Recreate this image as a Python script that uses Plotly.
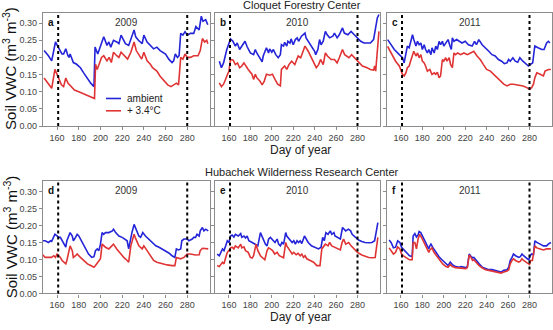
import plotly.graph_objects as go
from plotly.subplots import make_subplots

# ---------------- data (day of year, soil VWC) ----------------
A_AMB = [(148,0.22),(152,0.205),(155,0.19),(158.5,0.245),(161,0.23),(164.5,0.21),(166,0.21),(168,0.225),(170,0.205),(171,0.2),
         (172,0.21),(173.5,0.195),(175,0.185),(178,0.18),(181.5,0.17),(184.5,0.155),(187.5,0.14),(191,0.125),(194,0.115),(195,0.23),
         (197.5,0.21),(201.5,0.25),(203,0.26),(206,0.235),(207.7,0.245),(209.5,0.23),(212,0.25),(215,0.245),(217,0.24),(219,0.265),
         (223,0.24),(226,0.235),(228,0.255),(231,0.28),(232.5,0.26),(235,0.25),(238.5,0.24),(240,0.265),(243,0.245),(246,0.235),
         (249,0.225),(252,0.23),(255,0.22),(260,0.21),(263,0.195),(266,0.185),(267.5,0.19),(269,0.21),(271,0.2),(272.5,0.205),
         (274,0.27),(276,0.265),(278,0.275),(280,0.265),(283,0.27),(286,0.27),(288,0.29),(291,0.28),(293,0.32),(294.5,0.305),
         (297,0.31),(299,0.295)]
A_WARM = [(148,0.14),(153,0.12),(155,0.11),(158,0.165),(161,0.14),(164,0.12),(166,0.115),(168,0.14),(170,0.125),(173,0.115),
          (176,0.105),(180,0.1),(184,0.095),(188,0.09),(192,0.085),(194.5,0.08),(195.5,0.18),(197,0.165),(201,0.2),(203,0.205),
          (206,0.19),(208,0.2),(210,0.185),(212,0.215),(215,0.205),(217,0.2),(219,0.215),(222,0.205),(225,0.195),(228,0.215),
          (231,0.245),(233,0.22),(236,0.205),(238,0.195),(240,0.215),(243,0.19),(246,0.18),(248,0.17),(250,0.165),(252,0.16),
          (255,0.145),(259,0.13),(262,0.12),(265,0.115),(268,0.12),(270,0.125),(272,0.12),(274,0.2),(276,0.195),(278,0.21),
          (280,0.2),(283,0.2),(286,0.205),(290,0.205),(292,0.22),(294,0.255),(296,0.245),(298,0.25),(299,0.24)]

B_AMB = [(151,0.189),(153,0.170),(155,0.184),(158,0.223),(161.5,0.254),(163.7,0.247),(166,0.233),(167.7,0.242),(170,0.223),(172,0.233),
         (175,0.247),(177,0.231),(180,0.213),(183,0.208),(184.6,0.223),(186,0.213),(189,0.199),(191,0.187),(192,0.204),(195,0.228),
         (197,0.213),(198,0.225),(200,0.215),(201.5,0.223),(203.7,0.208),(206,0.199),(208,0.208),(209,0.237),(211,0.233),(212,0.244),
         (214,0.233),(215,0.247),(217,0.242),(218,0.254),(220,0.237),(222,0.252),(223.7,0.257),(225,0.247),(227.7,0.262),(229,0.266),
         (231,0.271),(232,0.257),(234,0.247),(237,0.233),(240,0.218),(241,0.208),(243,0.223),(244.6,0.252),(246,0.237),(248,0.247),
         (250,0.276),(251.7,0.266),(254,0.257),(257,0.262),(258.5,0.271),(261,0.257),(263,0.266),(266,0.286),(267.7,0.271),(271,0.266),
         (274,0.276),(277,0.266),(280,0.257),(283,0.247),(286,0.242),(289,0.242),(292,0.242),(295,0.252),(296,0.271),(298.5,0.315),
         (300,0.325)]
B_WARM = [(151,0.126),(153,0.115),(155,0.122),(158,0.146),(160,0.160),(161.5,0.194),(164,0.192),(166,0.179),(168,0.184),(170,0.170),
          (172,0.175),(174,0.184),(175,0.179),(178,0.165),(181.5,0.151),(183,0.136),(184.6,0.151),(186,0.141),(189,0.131),(191,0.120),
          (193,0.131),(195,0.151),(198,0.148),(200.6,0.151),(203,0.136),(205.5,0.122),(208,0.117),(209,0.165),(212,0.175),(214,0.165),
          (216,0.179),(218.5,0.189),(221.5,0.179),(223,0.194),(224.6,0.204),(227,0.199),(229,0.218),(231,0.233),(234,0.218),(237,0.199),
          (240,0.184),(241.5,0.170),(243.7,0.179),(245.5,0.194),(248,0.179),(250,0.213),(252,0.204),(255.4,0.194),(258.5,0.194),(261,0.184),
          (263,0.199),(266,0.223),(268,0.208),(272,0.199),(274.5,0.208),(278.5,0.194),(281.5,0.184),(284.6,0.175),(289,0.170),(292,0.165),
          (295,0.163),(296,0.175),(297,0.160),(298.5,0.223),(300,0.276)]

C_AMB = [(147.6,0.252),(150.7,0.237),(153.8,0.223),(158.5,0.208),(161.5,0.199),(163,0.184),(164.6,0.218),(166,0.233),(167.7,0.228),(169,0.247),
         (170.8,0.266),(172,0.252),(174,0.233),(175.5,0.247),(177,0.237),(178.6,0.242),(180,0.223),(181.7,0.237),(183,0.223),(184.7,0.213),
         (186,0.223),(188,0.208),(189,0.228),(191,0.213),(192.5,0.233),(194,0.223),(195.6,0.247),(197,0.237),(198.7,0.247),(200,0.233),
         (201.8,0.242),(204,0.252),(205.8,0.233),(207,0.223),(208,0.257),(209.5,0.247),(212,0.252),(214,0.247),(217,0.242),(220,0.247),
         (223,0.237),(226.5,0.233),(228.7,0.247),(230.5,0.237),(232.7,0.252),(235.8,0.237),(239,0.228),(242,0.218),(245,0.208),(248,0.204),
         (251,0.194),(254,0.189),(256.5,0.182),(259,0.184),(260.5,0.194),(262,0.189),(264.5,0.199),(266.7,0.189),(269,0.186),(271,0.199),
         (273.8,0.189),(276,0.184),(279,0.175),(280.6,0.179),(283,0.184),(284.3,0.218),(285,0.233),(288,0.228),(291.5,0.223),(293.6,0.223),
         (296,0.242),(297.6,0.247),(299,0.242)]
C_WARM = [(147.6,0.232),(150.7,0.213),(155,0.189),(158.5,0.175),(161.5,0.150),(163,0.146),(164.6,0.155),(166,0.170),(167.7,0.175),(169,0.189),
          (170.8,0.204),(172,0.218),(174,0.204),(175.5,0.213),(177,0.199),(178.6,0.208),(180,0.189),(181.7,0.184),(183,0.175),(184.7,0.160),
          (187,0.165),(189,0.150),(191,0.155),(192.5,0.151),(194,0.157),(195.6,0.141),(197,0.146),(198.7,0.194),(200,0.189),(201.8,0.199),
          (203,0.189),(205,0.199),(206.4,0.179),(208,0.170),(209.5,0.213),(211,0.208),(213,0.213),(215.7,0.208),(218.8,0.213),(222,0.208),
          (225,0.213),(228,0.218),(231,0.204),(234,0.194),(237,0.179),(240,0.165),(243.5,0.160),(246.6,0.151),(249.7,0.141),(252.8,0.131),
          (256,0.122),(259,0.117),(262,0.122),(265,0.122),(268,0.120),(271,0.117),(274,0.117),(277.5,0.112),(280,0.107),(282,0.112),
          (283.7,0.122),(285,0.141),(286.8,0.155),(290,0.151),(293,0.146),(294.5,0.160),(297.6,0.165),(300,0.165)]

D_AMB = [(146,0.155),(149,0.155),(152,0.150),(154,0.155),(155,0.153),(158,0.174),(160,0.169),(161.5,0.165),(163,0.165),(164.6,0.155),
         (168,0.136),(169,0.155),(171,0.169),(172,0.179),(174,0.169),(175,0.155),(177,0.165),(178.5,0.174),(180,0.169),(183,0.150),
         (186,0.131),(189,0.116),(192,0.106),(194,0.108),(195.4,0.126),(197,0.131),(198.5,0.126),(200,0.145),(201.5,0.179),(203,0.174),
         (204.6,0.179),(207.7,0.179),(211,0.184),(212,0.189),(214,0.179),(217,0.169),(220,0.165),(223,0.160),(224.6,0.155),(226,0.131),
         (228,0.169),(229,0.179),(231,0.203),(232,0.194),(234,0.179),(235.4,0.169),(237,0.165),(239,0.179),(241.5,0.169),(244.6,0.160),
         (247.7,0.150),(251,0.140),(254,0.136),(257,0.131),(260,0.126),(263,0.119),(266,0.111),(268.6,0.106),(270,0.131),(272,0.128),
         (274,0.131),(275,0.155),(277,0.160),(280,0.160),(281.5,0.155),(284.6,0.160),(286,0.165),(287.7,0.165),(289,0.174),(291,0.169),
         (292,0.184),(294,0.194),(295.4,0.184),(297,0.189),(299.4,0.184)]
D_WARM = [(146,0.116),(149,0.106),(152,0.106),(154.8,0.106),(157,0.111),(158.5,0.106),(160,0.116),(163,0.106),(164.6,0.097),(168,0.087),
          (169,0.097),(171,0.126),(172,0.140),(174,0.126),(175,0.106),(177,0.111),(178.5,0.116),(181.5,0.106),(184.6,0.097),(188,0.087),
          (191,0.082),(194,0.077),(195.4,0.082),(198.5,0.097),(200,0.102),(201.5,0.145),(203,0.140),(204.6,0.136),(207.7,0.131),(211,0.140),
          (212,0.145),(215,0.131),(218.5,0.116),(221.5,0.106),(224.6,0.097),(226,0.092),(228,0.140),(229,0.150),(231,0.174),(232,0.165),
          (235.4,0.140),(238.5,0.131),(240,0.140),(243,0.126),(246,0.111),(249,0.097),(252,0.092),(257,0.087),(261.5,0.084),(266,0.082),
          (268.6,0.082),(270,0.106),(274,0.102),(277,0.106),(280,0.116),(283,0.116),(287.7,0.113),(291,0.114),(292,0.126),(294,0.133),
          (297,0.131),(299.4,0.131)]

E_AMB = [(149,0.116),(151,0.111),(154,0.131),(155.4,0.126),(157,0.140),(158.5,0.155),(160,0.150),(161.5,0.169),(163,0.172),(164.6,0.166),
         (166,0.174),(168.7,0.169),(171,0.176),(172,0.165),(174,0.169),(175.5,0.163),(177,0.169),(178.6,0.155),(181.7,0.150),(184.7,0.145),
         (187,0.140),(189.4,0.179),(191,0.165),(192.5,0.155),(194,0.145),(195.6,0.140),(197,0.160),(198.7,0.165),(200,0.160),(201.8,0.155),
         (203,0.150),(205,0.160),(206.4,0.145),(208,0.140),(209.5,0.150),(211,0.145),(213,0.179),(214,0.169),(216.5,0.160),(219,0.150),
         (220.5,0.155),(222,0.145),(223.6,0.155),(225,0.150),(226.5,0.155),(228,0.147),(230.5,0.169),(231.8,0.160),(234,0.150),(237,0.140),
         (240.5,0.136),(243.6,0.131),(246,0.136),(247.5,0.165),(249,0.155),(250.5,0.179),(252.5,0.174),(254.6,0.184),(256,0.174),(258,0.179),
         (259,0.169),(262,0.165),(264,0.160),(266,0.194),(269,0.184),(271.5,0.189),(273.6,0.184),(275,0.174),(278,0.165),(281,0.157),
         (284,0.153),(287,0.150),(290.5,0.149),(293.5,0.150),(296,0.155),(297.5,0.184),(299,0.208)]
E_WARM = [(149,0.082),(151,0.079),(154,0.092),(155.4,0.087),(157,0.106),(158.5,0.121),(160,0.126),(161.5,0.134),(163,0.136),(164.6,0.131),
          (166,0.140),(168.7,0.134),(171,0.145),(172,0.134),(174,0.137),(175.5,0.126),(178,0.121),(180,0.106),(181.7,0.104),(183,0.111),
          (185.3,0.145),(187,0.126),(189.4,0.111),(191.6,0.106),(193.5,0.099),(195.6,0.126),(197,0.134),(198.7,0.131),(200.8,0.126),(202.7,0.116),
          (205,0.121),(207,0.111),(209.5,0.106),(211,0.105),(213,0.150),(214,0.140),(216.5,0.128),(219,0.116),(220.5,0.121),(222.8,0.114),
          (224.6,0.118),(226.5,0.111),(228,0.116),(229.6,0.106),(231,0.111),(232.7,0.102),(235.8,0.097),(239,0.092),(242,0.082),(245,0.082),
          (246.7,0.131),(248,0.137),(250,0.145),(252.5,0.140),(254,0.150),(256,0.140),(258.7,0.136),(262,0.131),(264,0.128),(265.6,0.150),
          (267,0.160),(269,0.145),(271.8,0.150),(274,0.140),(277,0.131),(280,0.121),(284,0.113),(287,0.109),(290.5,0.106),(293.5,0.105),
          (296.5,0.106),(299,0.165)]

F_AMB = [(149,0.157),(150.8,0.150),(153,0.134),(155,0.136),(157,0.155),(159,0.150),(160.6,0.136),(162,0.131),(165,0.121),(168,0.111),
         (170.5,0.109),(171.4,0.169),(173,0.176),(174.5,0.166),(176,0.172),(177,0.182),(178.5,0.179),(180,0.169),(182,0.155),(184.6,0.140),
         (186,0.131),(187,0.140),(188,0.145),(190,0.134),(193,0.121),(196,0.106),(199,0.097),(202,0.087),(204,0.082),(206,0.092),
         (208,0.085),(211,0.079),(214.5,0.077),(216,0.079),(218.5,0.077),(220.6,0.076),(222,0.079),(223.7,0.116),(225,0.111),(226.8,0.105),
         (228,0.106),(230,0.097),(233,0.087),(236,0.077),(239,0.073),(242,0.070),(245,0.070),(248,0.068),(251,0.065),(253.5,0.063),
         (256,0.068),(259,0.070),(260.6,0.077),(262,0.097),(263.7,0.106),(265,0.116),(267,0.111),(270,0.106),(271.4,0.108),(273,0.116),
         (274.5,0.111),(276,0.106),(278,0.102),(279.4,0.099),(280.6,0.111),(282,0.116),(283.7,0.114),(285,0.155),(286.8,0.150),(290,0.145),
         (293,0.140),(296,0.140),(297.5,0.145),(300,0.150)]
F_WARM = [(149,0.134),(150.8,0.126),(153,0.116),(155,0.121),(157,0.137),(159,0.131),(160.6,0.116),(162,0.111),(165,0.105),(168,0.099),
          (170.5,0.099),(171.4,0.150),(173,0.150),(174.5,0.131),(176,0.160),(177.5,0.174),(179,0.166),(180.6,0.155),(182.8,0.140),(184.6,0.131),
          (186,0.121),(187,0.128),(189,0.134),(190.8,0.121),(193,0.111),(196,0.097),(199,0.087),(202,0.079),(204,0.077),(206,0.085),
          (208,0.079),(211,0.076),(214.5,0.075),(217.5,0.073),(220.6,0.073),(222,0.076),(223.7,0.113),(225,0.108),(226.8,0.097),(228,0.099),
          (230,0.092),(233,0.082),(236,0.075),(239,0.070),(242,0.068),(245,0.066),(248,0.065),(251,0.063),(253.5,0.060),(256,0.063),
          (259,0.066),(260.6,0.070),(262,0.087),(263.7,0.097),(265,0.102),(267,0.097),(270,0.092),(271.4,0.095),(273,0.102),(274.5,0.097),
          (276,0.094),(278,0.089),(280,0.085),(281,0.097),(282.7,0.097),(285,0.140),(286.8,0.134),(290,0.131),(293,0.128),(296,0.131),
          (300,0.131)]

PANEL_LETTERS = ["a", "b", "c", "d", "e", "f"]
PANEL_YEARS = ["2009", "2010", "2011", "2009", "2010", "2011"]
AMBIENT = [A_AMB, B_AMB, C_AMB, D_AMB, E_AMB, F_AMB]
WARMED = [A_WARM, B_WARM, C_WARM, D_WARM, E_WARM, F_WARM]
SITES = ["Cloquet Forestry Center", "Hubachek Wilderness Research Center"]
SERIES_NAMES = ["ambient", "+ 3.4°C"]
DOTTED_DAYS = [161, 280]
X_TICKS = [160, 180, 200, 220, 240, 260, 280]
Y_TICKS = [0.0, 0.05, 0.10, 0.15, 0.20, 0.25, 0.30]

# ---------------- figure ----------------
W, H = 553, 330
FONT = "Arial, Liberation Sans, sans-serif"
BLUE = "#2424d8"
RED = "#e03434"
FRAME = "#8c8c8c"
COLORS = [BLUE, RED]

fig = make_subplots(rows=2, cols=3)

xdom = [(43 / W, 210 / W), (215 / W, 380 / W), (387 / W, 552 / W)]
ydom = [(1 - 128 / H, 1 - 13 / H), (1 - 298 / H, 1 - 184 / H)]

for i in range(6):
    r, c = divmod(i, 3)
    ax = "" if i == 0 else str(i + 1)
    for s, series in enumerate([AMBIENT[i], WARMED[i]]):
        fig.add_trace(go.Scatter(x=[p[0] for p in series], y=[p[1] for p in series], mode="lines",
                                 line=dict(color=COLORS[s], width=1.6), name=SERIES_NAMES[s],
                                 showlegend=False), row=r + 1, col=c + 1)
    for d in DOTTED_DAYS:
        fig.add_shape(type="line", x0=d, x1=d, y0=0, y1=1, xref=f"x{ax}", yref=f"y{ax} domain",
                      line=dict(color="black", width=2, dash="dot"))
    fig.add_annotation(text=f"<b>{PANEL_LETTERS[i]}</b>", xref=f"x{ax} domain", yref=f"y{ax} domain",
                       x=0.02, y=0.985, xanchor="left", yanchor="top", showarrow=False,
                       font=dict(family=FONT, size=10, color="#111"))
    fig.add_annotation(text=PANEL_YEARS[i], xref=f"x{ax} domain", yref=f"y{ax} domain",
                       x=0.5, y=0.985, xanchor="center", yanchor="top", showarrow=False,
                       font=dict(family=FONT, size=10, color="#333"))
    fig.update_xaxes(domain=xdom[c], range=[147, 301], tickvals=X_TICKS, ticks="outside", ticklen=3,
                     tickcolor=FRAME, showline=True, mirror=True, linecolor=FRAME, linewidth=1.3,
                     showgrid=False, zeroline=False, tickfont=dict(family=FONT, size=9, color="#444"),
                     row=r + 1, col=c + 1)
    fig.update_yaxes(domain=ydom[r], range=[0, 0.33], tickvals=Y_TICKS, tickformat=".2f", ticks="outside",
                     ticklen=3, tickcolor=FRAME, showline=True, mirror=True, linecolor=FRAME, linewidth=1.3,
                     showgrid=False, zeroline=False, showticklabels=(c == 0),
                     tickfont=dict(family=FONT, size=9, color="#444"), row=r + 1, col=c + 1)

# legend drawn inside panel a (compact, as in the reference)
for s, name in enumerate(SERIES_NAMES):
    ypx = 100 + 12.5 * s
    fig.add_shape(type="line", xref="paper", yref="paper", x0=106 / W, x1=121 / W,
                  y0=1 - ypx / H, y1=1 - ypx / H, line=dict(color=COLORS[s], width=1.6))
    fig.add_annotation(text=name, xref="paper", yref="paper", x=125 / W, y=1 - ypx / H,
                       xanchor="left", yanchor="middle", showarrow=False,
                       font=dict(family=FONT, size=10, color="#222"))

# site titles and axis labels
for k, site in enumerate(SITES):
    fig.add_annotation(text=site, xref="paper", yref="paper", x=302 / W, y=1 - (5 if k == 0 else 175) / H,
                       xanchor="center", yanchor="middle", showarrow=False,
                       font=dict(family=FONT, size=11, color="#222"))
    fig.add_annotation(text="Day of year", xref="paper", yref="paper", x=300 / W,
                       y=1 - (152 if k == 0 else 322) / H, xanchor="center", yanchor="middle", showarrow=False,
                       font=dict(family=FONT, size=12, color="#222"))
    fig.add_annotation(text="Soil VWC (m<sup>3</sup> m<sup>-3</sup>)", xref="paper", yref="paper",
                       x=10 / W, y=1 - (70 if k == 0 else 241) / H, textangle=-90,
                       xanchor="center", yanchor="middle", showarrow=False,
                       font=dict(family=FONT, size=15, color="#111"))

fig.update_layout(
    width=W, height=H, margin=dict(l=0, r=0, t=0, b=0),
    paper_bgcolor="white", plot_bgcolor="white",
    showlegend=False,
)

fig.write_html("out.html")
